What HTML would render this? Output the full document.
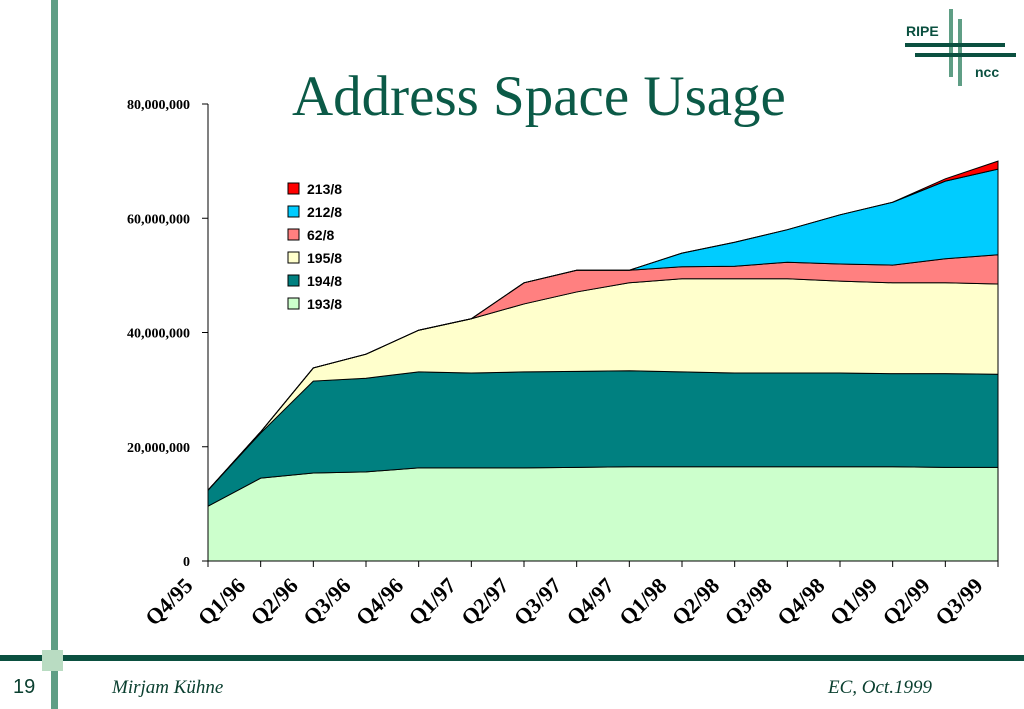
<!DOCTYPE html>
<html><head><meta charset="utf-8"><style>
body{margin:0;width:1024px;height:709px;background:#fff;overflow:hidden;position:relative;font-family:"Liberation Serif",serif}
.a{position:absolute}
</style></head><body>
<div class="a" style="left:51px;top:0;width:7px;height:709px;background:#5f9e85"></div>
<div class="a" style="left:0;top:655px;width:1024px;height:6px;background:#0b5040"></div>
<div class="a" style="left:42px;top:650px;width:21px;height:21px;background:#b9dcc2"></div>
<div class="a" style="left:13px;top:676px;font:20px 'Liberation Sans',sans-serif;color:#0b4030">19</div>
<div class="a" style="left:112px;top:677px;font:italic 19px 'Liberation Serif',serif;color:#0b4030">Mirjam Kühne</div>
<div class="a" style="left:828px;top:677px;font:italic 19px 'Liberation Serif',serif;color:#0b4030">EC, Oct.1999</div>
<div class="a" style="left:292px;top:64px;font:57px 'Liberation Serif',serif;color:#0b5a47;white-space:nowrap">Address Space Usage</div>
<svg class="a" style="left:880px;top:0" width="144" height="100">
<rect x="69" y="9" width="4" height="68" fill="#5f9e85"/><rect x="78" y="19" width="4" height="67" fill="#5f9e85"/>
<rect x="25" y="43" width="100" height="4" fill="#0b5040"/><rect x="35" y="53" width="101" height="4" fill="#0b5040"/>
<text x="26" y="36" font-family="Liberation Sans" font-weight="bold" font-size="14" fill="#0b5040">RIPE</text>
<text x="95" y="77" font-family="Liberation Sans" font-weight="bold" font-size="14" fill="#0b5040">ncc</text>
</svg>
<svg id="chart" class="a" style="left:0;top:0" width="1024" height="650"></svg>
<script>
const categories=["Q4/95","Q1/96","Q2/96","Q3/96","Q4/96","Q1/97","Q2/97","Q3/97","Q4/97","Q1/98","Q2/98","Q3/98","Q4/98","Q1/99","Q2/99","Q3/99"];
const s193=[9.6,14.5,15.4,15.6,16.3,16.3,16.3,16.4,16.5,16.5,16.5,16.5,16.5,16.5,16.4,16.4];
const s194=[2.8,7.9,16.1,16.4,16.8,16.6,16.8,16.8,16.8,16.6,16.4,16.4,16.4,16.3,16.4,16.3];
const s195=[0,0.2,2.3,4.2,7.3,9.5,11.9,13.9,15.4,16.3,16.5,16.5,16.1,15.9,15.9,15.8];
const s62=[0,0,0,0,0,0,3.7,3.8,2.2,2.1,2.2,2.9,3.0,3.1,4.2,5.1];
const s212=[0,0,0,0,0,0,0,0,0,2.4,4.2,5.7,8.6,11.0,13.6,15.0];
const s213=[0,0,0,0,0,0,0,0,0,0,0,0,0,0,0.4,1.4];
const yTicks=[0,20000000,40000000,60000000,80000000];
const yTickLabels=["0","20,000,000","40,000,000","60,000,000","80,000,000"];
const seriesNames=["193/8","194/8","195/8","62/8","212/8","213/8"];
const seriesColors=["#ccffcc","#008080","#ffffcc","#ff8080","#00ccff","#ff0000"];
const svg=document.getElementById('chart');const NS="http://www.w3.org/2000/svg";
const X0=208,X1=998,Y0=561,Y1=104;
const xs=i=>X0+(X1-X0)*i/(categories.length-1);
const ys=v=>Y0-(Y0-Y1)*v/80000000;
function mk(t,a){const e=document.createElementNS(NS,t);for(const k in a)e.setAttribute(k,a[k]);svg.appendChild(e);return e;}
const all=[s193,s194,s195,s62,s212,s213];
let base=categories.map(()=>0);
all.forEach((s,k)=>{
 const top=base.map((b,i)=>b+s[i]*1e6);
 let d="M"+categories.map((c,i)=>xs(i)+","+ys(top[i])).join("L");
 for(let i=categories.length-1;i>=0;i--)d+="L"+xs(i)+","+ys(base[i]);
 const p=mk('path',{d:d+"Z",fill:seriesColors[k],stroke:"#000","stroke-width":1});
 
 
 base=top;
});
const ax=mk('line',{x1:X0,y1:Y1,x2:X0,y2:Y0,stroke:"#000"});

const bx=mk('line',{x1:X0,y1:Y0,x2:X1,y2:Y0,stroke:"#000"});

yTicks.forEach((v,i)=>{
 mk('line',{x1:X0-6,x2:X0,y1:ys(v),y2:ys(v),stroke:"#000"});
 const t=mk('text',{x:X0-18,y:ys(v)+5,"text-anchor":"end","font-family":"Liberation Serif","font-weight":"bold","font-size":14});
 t.textContent=yTickLabels[i];
 
});
categories.forEach((c,i)=>{
 mk('line',{x1:xs(i),x2:xs(i),y1:Y0,y2:Y0+6,stroke:"#000"});
 const lx=xs(i)-14,ly=Y0+26;
 const t=mk('text',{x:lx,y:ly,"text-anchor":"end","font-family":"Liberation Serif","font-weight":"bold","font-size":22,transform:`rotate(-45 ${lx} ${ly})`});
 t.textContent=c;
 
});
for(let k=5;k>=0;k--){
 const y=183+(5-k)*23;
 const r=mk('rect',{x:288,y:y,width:11,height:11,fill:seriesColors[k],stroke:"#000"});
 
 const t=mk('text',{x:307,y:y+11,"font-family":"Liberation Sans","font-weight":"bold","font-size":14});
 t.textContent=seriesNames[k];
 
}
</script>
</body></html>
